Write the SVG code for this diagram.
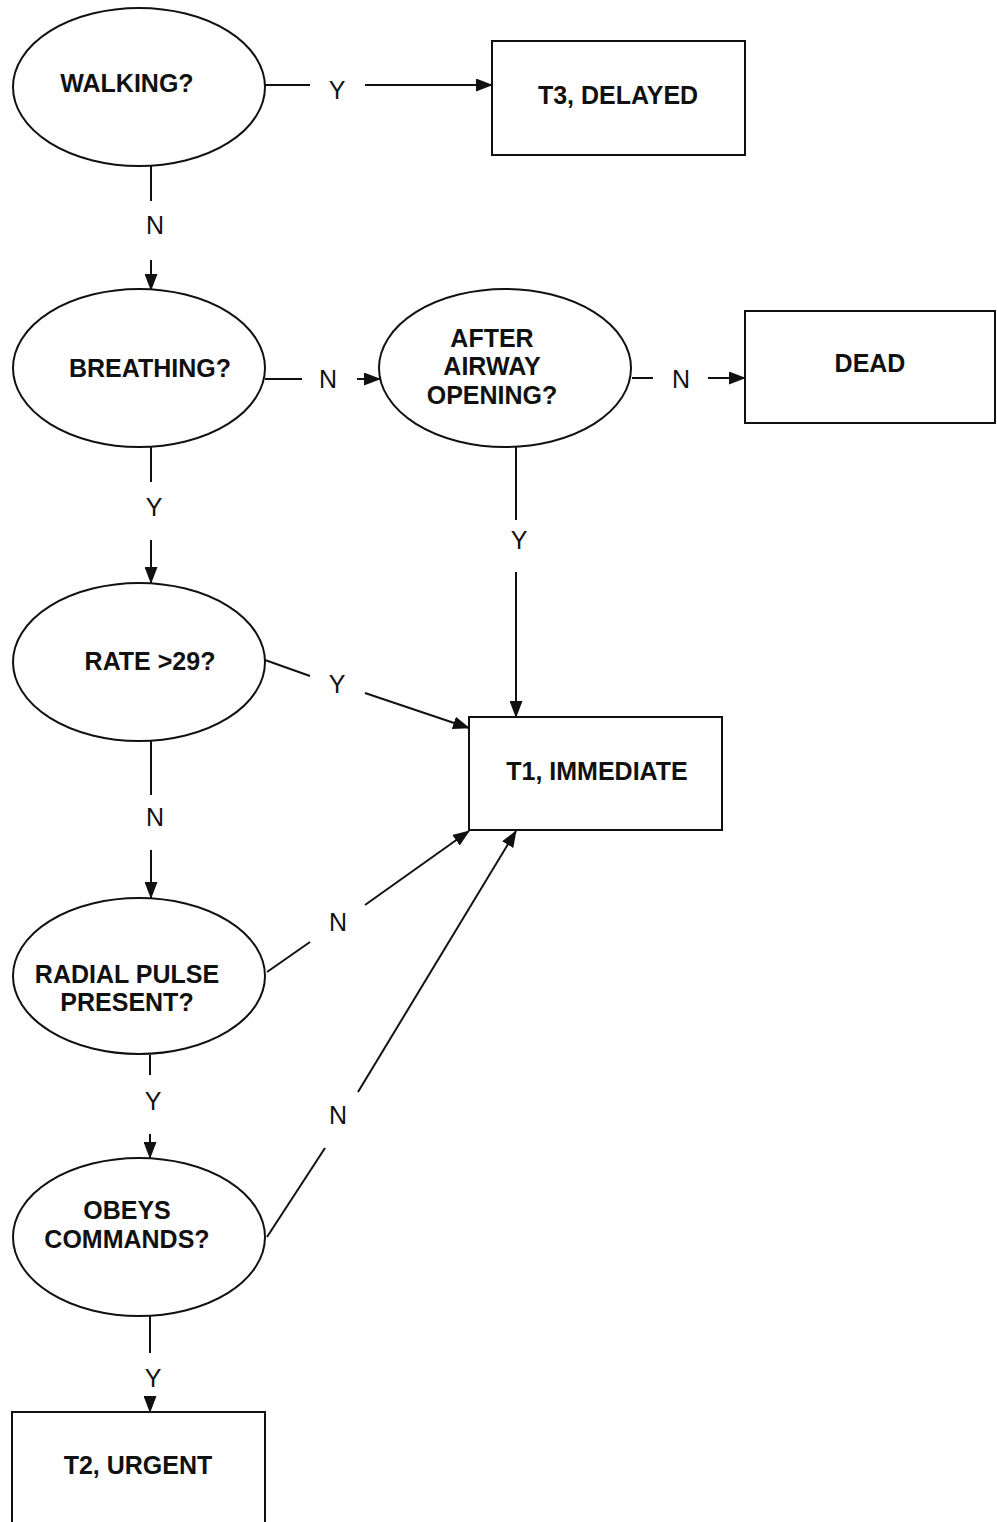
<svg xmlns="http://www.w3.org/2000/svg" width="997" height="1522" viewBox="0 0 997 1522">
<defs>
<style>
.shape{fill:#fff;stroke:#111;stroke-width:2}
.t{font-family:"Liberation Sans",Arial,sans-serif;font-weight:bold;font-size:25px;fill:#111;text-anchor:middle}
.l{font-family:"Liberation Sans",Arial,sans-serif;font-size:25px;fill:#111;text-anchor:middle}
.c{fill:none;stroke:#111;stroke-width:2}
</style>
<marker id="arr" markerUnits="userSpaceOnUse" markerWidth="17" markerHeight="13" refX="16" refY="6.5" orient="auto">
<path d="M0,0 L17,6.5 L0,13 Z" fill="#111"/>
</marker>
</defs>
<rect width="997" height="1522" fill="#fff"/>
<g id="connectors">
<line class="c" x1="265" y1="85" x2="310" y2="85"/>
<line class="c" x1="365" y1="85" x2="492" y2="85" marker-end="url(#arr)"/>
<text class="l" x="337" y="99">Y</text>
<line class="c" x1="151" y1="166" x2="151" y2="201"/>
<line class="c" x1="151" y1="260" x2="151" y2="290" marker-end="url(#arr)"/>
<text class="l" x="155" y="234">N</text>
<line class="c" x1="265" y1="379" x2="302" y2="379"/>
<line class="c" x1="357" y1="379" x2="380" y2="379" marker-end="url(#arr)"/>
<text class="l" x="328" y="388">N</text>
<line class="c" x1="632" y1="378" x2="653" y2="378"/>
<line class="c" x1="708" y1="378" x2="745" y2="378" marker-end="url(#arr)"/>
<text class="l" x="681" y="388">N</text>
<line class="c" x1="516" y1="447" x2="516" y2="520"/>
<line class="c" x1="516" y1="572" x2="516" y2="717" marker-end="url(#arr)"/>
<text class="l" x="519" y="549">Y</text>
<line class="c" x1="151" y1="447" x2="151" y2="482"/>
<line class="c" x1="151" y1="540" x2="151" y2="583" marker-end="url(#arr)"/>
<text class="l" x="154" y="516">Y</text>
<line class="c" x1="265" y1="660" x2="310" y2="676"/>
<line class="c" x1="365" y1="693" x2="469" y2="728" marker-end="url(#arr)"/>
<text class="l" x="337" y="693">Y</text>
<line class="c" x1="151" y1="741" x2="151" y2="795"/>
<line class="c" x1="151" y1="850" x2="151" y2="898" marker-end="url(#arr)"/>
<text class="l" x="155" y="826">N</text>
<line class="c" x1="267" y1="972" x2="310" y2="942"/>
<line class="c" x1="365" y1="905" x2="469" y2="831" marker-end="url(#arr)"/>
<text class="l" x="338" y="931">N</text>
<line class="c" x1="150" y1="1055" x2="150" y2="1075"/>
<line class="c" x1="150" y1="1134" x2="150" y2="1158" marker-end="url(#arr)"/>
<text class="l" x="153" y="1110">Y</text>
<line class="c" x1="267" y1="1237" x2="325" y2="1148"/>
<line class="c" x1="358" y1="1092" x2="516" y2="831" marker-end="url(#arr)"/>
<text class="l" x="338" y="1124">N</text>
<line class="c" x1="150" y1="1316" x2="150" y2="1353"/>
<line class="c" x1="150" y1="1400" x2="150" y2="1412" marker-end="url(#arr)"/>
<text class="l" x="153" y="1387">Y</text>
</g>
<g id="walking">
<ellipse class="shape" cx="139" cy="87" rx="126" ry="79"/>
<text class="t" x="127" y="92">WALKING?</text>
</g>
<g id="t3">
<rect class="shape" x="492" y="41" width="253" height="114"/>
<text class="t" x="618" y="104">T3, DELAYED</text>
</g>
<g id="breathing">
<ellipse class="shape" cx="139" cy="368" rx="126" ry="79"/>
<text class="t" x="150" y="377">BREATHING?</text>
</g>
<g id="airway">
<ellipse class="shape" cx="505" cy="368" rx="126" ry="79"/>
<text class="t" x="492" y="347">AFTER</text>
<text class="t" x="492" y="375">AIRWAY</text>
<text class="t" x="492" y="404">OPENING?</text>
</g>
<g id="dead">
<rect class="shape" x="745" y="311" width="250" height="112"/>
<text class="t" x="870" y="372">DEAD</text>
</g>
<g id="rate">
<ellipse class="shape" cx="139" cy="662" rx="126" ry="79"/>
<text class="t" x="150" y="670">RATE &gt;29?</text>
</g>
<g id="t1">
<rect class="shape" x="469" y="717" width="253" height="113"/>
<text class="t" x="597" y="780">T1, IMMEDIATE</text>
</g>
<g id="radial">
<ellipse class="shape" cx="139" cy="976" rx="126" ry="78"/>
<text class="t" x="127" y="983">RADIAL PULSE</text>
<text class="t" x="127" y="1011">PRESENT?</text>
</g>
<g id="obeys">
<ellipse class="shape" cx="139" cy="1237" rx="126" ry="79"/>
<text class="t" x="127" y="1219">OBEYS</text>
<text class="t" x="127" y="1248">COMMANDS?</text>
</g>
<g id="t2">
<rect class="shape" x="12" y="1412" width="253" height="120"/>
<text class="t" x="138" y="1474">T2, URGENT</text>
</g>
</svg>
